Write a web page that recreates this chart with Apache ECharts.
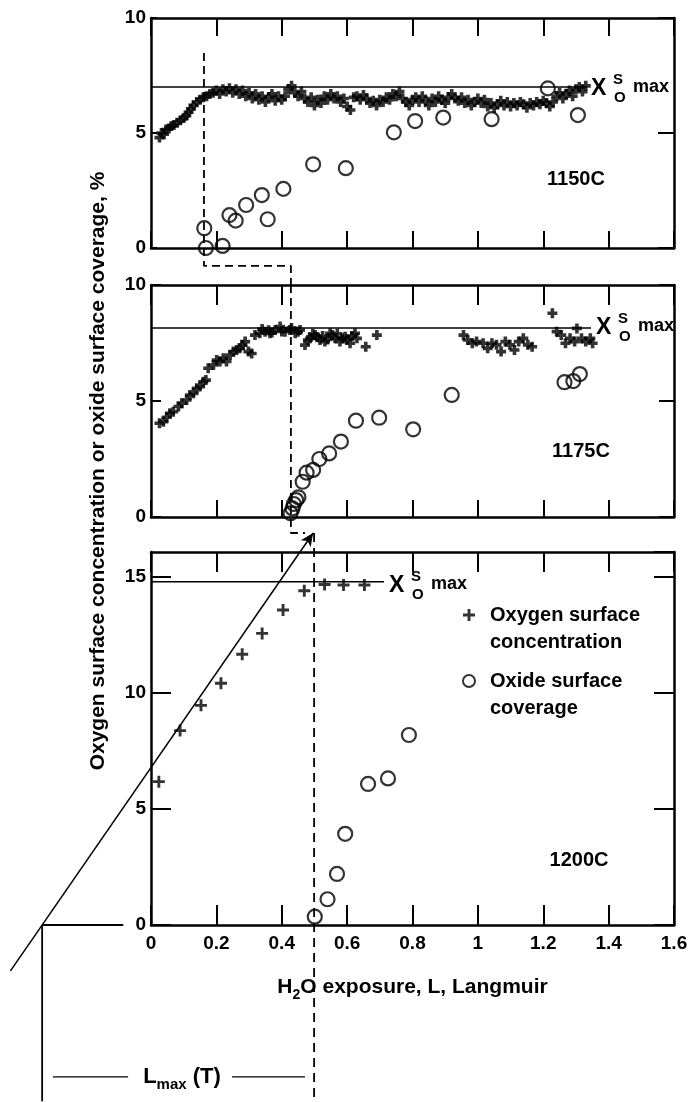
<!DOCTYPE html>
<html>
<head>
<meta charset="utf-8">
<script src="https://cdn.jsdelivr.net/npm/echarts@6/dist/echarts.min.js"></script>
<style>
  html, body { margin: 0; padding: 0; background: #fff; }
  #chart { width: 693px; height: 1102px; }
</style>
</head>
<body>
<div id="chart"></div>
<script>
// values (x = H2O exposure in L, y = %)
const xTicks = [0, 0.2, 0.4, 0.6, 0.8, 1, 1.2, 1.4, 1.6];
const yTicks = [[0, 5, 10], [0, 5, 10], [0, 5, 10, 15]];
const yTopLow = 16.08;
const temps = ['1150C', '1175C', '1200C'];

const oxygen1150 = [
  [0.026,4.8],[0.032,5.0],[0.040,4.95],[0.046,5.15],[0.055,5.2],[0.062,5.3],[0.070,5.35],[0.080,5.45],
  [0.090,5.55],[0.100,5.65],[0.108,5.75],[0.115,5.9],[0.122,6.05],[0.130,6.2],[0.140,6.35],[0.150,6.45],
  [0.160,6.55],[0.170,6.6],[0.180,6.7],[0.190,6.75],[0.200,6.85],[0.210,6.7],[0.220,6.9],[0.230,6.8],
  [0.240,6.95],[0.250,6.75],[0.260,6.9],[0.270,6.7],[0.280,6.85],[0.290,6.6],[0.300,6.75],[0.310,6.5],
  [0.320,6.7],[0.330,6.45],[0.340,6.6],[0.350,6.35],[0.360,6.55],[0.370,6.7],[0.380,6.4],[0.390,6.6],
  [0.400,6.45],[0.410,6.6],[0.420,6.9],[0.430,7.05],[0.440,6.75],[0.450,6.6],[0.460,6.8],[0.470,6.5],
  [0.480,6.35],[0.490,6.55],[0.500,6.2],[0.510,6.45],[0.520,6.3],[0.530,6.6],[0.540,6.45],[0.550,6.7],
  [0.560,6.5],[0.570,6.6],[0.580,6.35],[0.590,6.5],[0.600,6.15],[0.610,6.0],[0.620,6.55],[0.630,6.6],
  [0.640,6.45],[0.650,6.65],[0.660,6.5],[0.670,6.3],[0.680,6.4],[0.690,6.2],[0.700,6.45],[0.710,6.35],
  [0.720,6.55],[0.730,6.45],[0.740,6.7],[0.750,6.6],[0.760,6.8],[0.770,6.5],[0.780,6.35],[0.790,6.2],
  [0.800,6.45],[0.810,6.55],[0.820,6.35],[0.830,6.6],[0.840,6.4],[0.850,6.2],[0.860,6.5],[0.870,6.35],
  [0.880,6.6],[0.890,6.45],[0.900,6.3],[0.910,6.55],[0.920,6.7],[0.930,6.5],[0.940,6.4],[0.950,6.55],
  [0.960,6.3],[0.970,6.45],[0.980,6.2],[0.990,6.35],[1.000,6.5],[1.010,6.3],[1.020,6.45],[1.030,6.15],
  [1.040,6.3],[1.050,6.1],[1.060,6.25],[1.070,6.4],[1.080,6.2],[1.090,6.35],[1.100,6.15],[1.110,6.3],
  [1.120,6.2],[1.130,6.35],[1.140,6.25],[1.150,6.1],[1.160,6.3],[1.170,6.2],[1.180,6.35],[1.190,6.25],
  [1.200,6.4],[1.210,6.3],[1.220,6.15],[1.230,6.35],[1.240,6.6],[1.250,6.75],[1.260,6.5],[1.270,6.7],
  [1.280,6.85],[1.290,6.6],[1.300,6.9],[1.310,7.0],[1.320,6.8],[1.330,7.05]
];
const oxide1150 = [
  [0.163,0.86],[0.168,0],[0.219,0.09],[0.240,1.43],[0.259,1.19],[0.291,1.87],[0.339,2.30],[0.357,1.25],
  [0.405,2.57],[0.496,3.64],[0.596,3.47],[0.743,5.03],[0.808,5.52],[0.894,5.67],[1.042,5.60],[1.214,6.94],
  [1.306,5.78]
];

const oxygen1175 = [
  [0.026,4.04],[0.038,4.11],[0.048,4.3],[0.058,4.47],[0.068,4.54],[0.084,4.76],[0.094,4.90],[0.109,5.04],
  [0.119,5.26],[0.130,5.33],[0.140,5.55],[0.150,5.62],[0.160,5.83],[0.168,5.90],[0.175,6.41],[0.191,6.55],
  [0.201,6.77],[0.211,6.70],[0.221,6.84],[0.231,6.70],[0.242,6.98],[0.252,7.13],[0.262,7.20],[0.272,7.27],
  [0.280,7.41],[0.288,7.56],[0.298,7.13],[0.308,7.05],[0.318,7.84],[0.333,7.92],[0.340,8.10],[0.349,7.99],
  [0.360,8.05],[0.364,7.92],[0.370,7.95],[0.380,8.06],[0.395,8.21],[0.400,8.00],[0.410,7.99],[0.425,8.06],
  [0.430,8.15],[0.441,7.92],[0.450,7.98],[0.456,8.06],[0.471,7.41],[0.480,7.63],[0.487,7.70],[0.495,7.90],
  [0.502,7.84],[0.510,7.75],[0.517,7.63],[0.525,7.80],[0.532,7.56],[0.540,7.65],[0.548,7.92],[0.555,7.85],
  [0.563,7.70],[0.570,7.90],[0.578,7.56],[0.585,7.70],[0.594,7.77],[0.600,7.65],[0.609,7.49],[0.615,7.80],
  [0.624,7.92],[0.630,7.70],[0.657,7.34],[0.691,7.84],
  [0.956,7.84],[0.969,7.63],[0.983,7.49],[0.996,7.56],[1.016,7.49],[1.030,7.27],[1.043,7.49],[1.057,7.42],
  [1.071,7.13],[1.084,7.56],[1.098,7.42],[1.112,7.20],[1.125,7.56],[1.139,7.70],[1.153,7.42],[1.166,7.34],
  [1.228,8.78],[1.241,7.99],[1.255,7.84],[1.268,7.49],[1.282,7.70],[1.296,7.56],[1.303,8.13],[1.317,7.70],
  [1.330,7.56],[1.344,7.70],[1.351,7.49]
];
const oxide1175 = [
  [0.427,0.16],[0.433,0.37],[0.437,0.56],[0.444,0.73],[0.451,0.85],[0.464,1.52],[0.476,1.91],[0.496,2.03],
  [0.515,2.50],[0.545,2.74],[0.581,3.25],[0.627,4.15],[0.698,4.28],[0.802,3.78],[0.920,5.26],[1.265,5.81],
  [1.292,5.86],[1.312,6.16]
];

const oxygen1200 = [
  [0.024,6.18],[0.089,8.38],[0.153,9.47],[0.214,10.42],[0.279,11.67],[0.340,12.57],[0.404,13.58],
  [0.469,14.41],[0.531,14.68],[0.589,14.66],[0.653,14.66]
];
const oxide1200 = [
  [0.501,0.36],[0.540,1.11],[0.569,2.20],[0.594,3.93],[0.664,6.08],[0.725,6.32],[0.789,8.19]
];

// saturation level X_O^S max and where its line stops
const xsMaxLevel = [7.0, 8.15, 14.8];
const xsMaxEnd = [1.334, 1.346, 0.713];

// L_max construction: dashed guides per panel; the rest is in 1200C units
const lmaxGuide1150 = [[0.162,8.48],[0.162,-0.78],[0.428,-0.78],[0.428,-1.61]];
const lmaxGuide1175 = [[0.428,10],[0.428,-0.69],[0.471,-0.69]];
const lmaxGuide1200 = [[0.499,16.9],[0.499,-7.6]];
const fitLine1200 = [[-0.43,-1.98],[0.496,16.9]];
const fitBase1200 = [[-0.333,0],[-0.085,0]];
const fitDrop1200 = [[-0.333,0],[-0.333,-7.6]];
const lmaxBarLeft = [[-0.30,-6.55],[-0.07,-6.55]];
const lmaxBarRight = [[0.248,-6.55],[0.471,-6.55]];

const FONT = '"Liberation Sans", Arial, sans-serif';
const CROSS = 'path://M3.2,0H6.8V3.2H10V6.8H6.8V10H3.2V6.8H0V3.2H3.2Z';
const CROSS_P3 = 'path://M3.8,0H6.2V3.8H10V6.2H6.2V10H3.8V6.2H0V3.8H3.8Z';

const W = 693, H = 1102;
const grids = [
  { left: 151, top: 18, width: 523, height: 230 },
  { left: 151, top: 285, width: 523, height: 232 },
  { left: 151, top: 552, width: 523, height: 373 }
];
const tickLen = [
  { top: 18, bottom: 17, left: 6, right: 16 },
  { top: 20, bottom: 17, left: 10, right: 15 },
  { top: 20, bottom: 20, left: 20, right: 20 }
];

const xMin = xTicks[0], xMax = xTicks[xTicks.length - 1];
const xAxis = [], yAxis = [];
grids.forEach((g, i) => {
  ['bottom', 'top'].forEach(pos => {
    const labelled = i === 2 && pos === 'bottom';
    xAxis.push({
      gridIndex: i, type: 'value', position: pos,
      min: xMin, max: xMax, interval: xTicks[1] - xTicks[0],
      axisLine: { show: true, onZero: false, lineStyle: { color: '#000', width: 2.5 } },
      axisTick: { show: true, inside: true, length: tickLen[i][pos], lineStyle: { color: '#000', width: 2 } },
      axisLabel: { show: labelled, color: '#000', fontSize: 19, fontWeight: 'bold', fontFamily: FONT, margin: 9 },
      splitLine: { show: false },
      name: labelled ? '{n|H}{s|2}{n|O exposure, L, Langmuir}' : '',
      nameLocation: 'middle', nameGap: 47,
      nameTextStyle: {
        rich: {
          n: { fontSize: 21, fontWeight: 'bold', fontFamily: FONT, color: '#000', lineHeight: 30 },
          s: { fontSize: 14, fontWeight: 'bold', fontFamily: FONT, color: '#000', verticalAlign: 'bottom' }
        }
      }
    });
  });
  const t = yTicks[i];
  ['left', 'right'].forEach(pos => {
    yAxis.push({
      gridIndex: i, type: 'value', position: pos,
      min: t[0], max: i === 2 ? yTopLow : t[t.length - 1], interval: t[1] - t[0],
      axisLine: { show: true, onZero: false, lineStyle: { color: '#000', width: 2.5 } },
      axisTick: { show: true, inside: true, length: tickLen[i][pos], lineStyle: { color: '#000', width: 2 } },
      axisLabel: {
        show: pos === 'left', showMaxLabel: i !== 2, color: '#000',
        fontSize: 19, fontWeight: 'bold', fontFamily: FONT, margin: 5
      },
      splitLine: { show: false }
    });
  });
});

// hidden full-page grid sharing the 1200C scale, for the construction outside the frame
const g3 = grids[2];
const pxX = g3.width / (xMax - xMin);
const pxY = g3.height / (yTopLow - 0);
grids.push({ left: 0, top: 0, width: W, height: H });
xAxis.push({
  gridIndex: 3, type: 'value', show: false,
  min: xMin - g3.left / pxX, max: xMin + (W - g3.left) / pxX
});
yAxis.push({
  gridIndex: 3, type: 'value', show: false,
  min: -(H - g3.top - g3.height) / pxY, max: (g3.top + g3.height) / pxY
});

const oxygenData = [oxygen1150, oxygen1175, oxygen1200];
const oxideData = [oxide1150, oxide1175, oxide1200];

const series = [];
function line(axisIdx, data, style, extra) {
  return Object.assign({
    type: 'line', xAxisIndex: axisIdx, yAxisIndex: axisIdx, data: data,
    showSymbol: false, symbol: 'none', clip: false, silent: true,
    lineStyle: Object.assign({ color: '#000', width: 1.5 }, style)
  }, extra || {});
}
grids.slice(0, 3).forEach((g, i) => {
  series.push({
    name: 'Oxygen surface concentration', type: 'scatter',
    xAxisIndex: 2 * i, yAxisIndex: 2 * i, data: oxygenData[i],
    symbol: i === 2 ? CROSS_P3 : CROSS, symbolSize: i === 2 ? 12 : 10,
    itemStyle: { color: '#000' }, z: 3
  });
  series.push({
    name: 'Oxide surface coverage', type: 'scatter',
    xAxisIndex: 2 * i, yAxisIndex: 2 * i, data: oxideData[i],
    symbol: 'circle', symbolSize: 14,
    itemStyle: { color: 'rgba(0,0,0,0)', borderColor: '#000', borderWidth: 2.2 }, z: 4
  });
  series.push(line(2 * i, [[0, xsMaxLevel[i]], [xsMaxEnd[i], xsMaxLevel[i]]], {}));
});
series.push(line(0, lmaxGuide1150, { type: [8, 5], width: 1.8 }));
series.push(line(2, lmaxGuide1175, { type: [8, 5], width: 1.8 }));
series.push(line(6, lmaxGuide1200, { type: [9, 6], width: 1.8 }));
// extrapolated straight line with arrow at its end
const fitData = fitLine1200.map((p, k) => k === fitLine1200.length - 1
  ? { value: p, symbol: 'arrow', symbolSize: [9, 13], symbolRotate: -34.7, itemStyle: { color: '#000' } }
  : { value: p, symbol: 'none' });
series.push(line(6, fitData, {}, { showSymbol: true }));
series.push(line(6, fitBase1200, { width: 2 }));
series.push(line(6, fitDrop1200, { width: 1.8 }));
series.push(line(6, lmaxBarLeft, { width: 1.3 }));
series.push(line(6, lmaxBarRight, { width: 1.3 }));

function legendAt(name, icon, left, iconY) {
  return {
    data: [{ name: name, icon: icon }], left: left, top: iconY - 40.5, padding: 0,
    orient: 'vertical', itemWidth: 32, itemHeight: 12, selectedMode: false,
    formatter: n => '\n' + n.replace(' surface ', ' surface\n'),
    textStyle: { color: '#000', fontSize: 20, fontWeight: 'bold', fontFamily: FONT, lineHeight: 27 }
  };
}

function txt(text, x, y, size, extra) {
  return Object.assign({
    type: 'text', x: x, y: y, silent: true,
    style: { text: text, fontSize: size, fontWeight: 'bold', fontFamily: FONT, fill: '#000', align: 'left', verticalAlign: 'middle' }
  }, extra || {});
}
const labelPos = [[576, 179], [581, 451], [579, 860]];
const xsLabelPos = [[591, 89], [596, 328], [389, 586]];
const graphic = [
  txt('Oxygen surface concentration or oxide surface coverage, %', 98, 471, 21, { rotation: Math.PI / 2 })
];
graphic[0].style.align = 'center';
temps.forEach((t, i) => {
  const e = txt(t, labelPos[i][0], labelPos[i][1], 20);
  e.style.align = 'center';
  graphic.push(e);
  const [lx, ly] = xsLabelPos[i];
  graphic.push(txt('X', lx, ly, 23));
  graphic.push(txt('S', lx + 22, ly - 9, 15));
  graphic.push(txt('O', lx + 23, ly + 9, 15));
  graphic.push(txt('max', lx + 42, ly - 2, 18));
});
graphic.push({
  type: 'text', x: 182, y: 1077, silent: true,
  style: {
    text: '{a|L}{b|max}{a| (T)}', align: 'center', verticalAlign: 'middle', fill: '#000',
    rich: {
      a: { fontSize: 22, fontWeight: 'bold', fontFamily: FONT, lineHeight: 30 },
      b: { fontSize: 15, fontWeight: 'bold', fontFamily: FONT, verticalAlign: 'bottom' }
    }
  }
});

const chart = echarts.init(document.getElementById('chart'));
chart.setOption({
  animation: false,
  backgroundColor: '#fff',
  grid: grids,
  xAxis: xAxis,
  yAxis: yAxis,
  legend: [
    legendAt('Oxygen surface concentration', CROSS_P3, 463, 615),
    legendAt('Oxide surface coverage', 'circle', 462, 681)
  ],
  graphic: graphic,
  series: series
});
</script>
</body>
</html>
